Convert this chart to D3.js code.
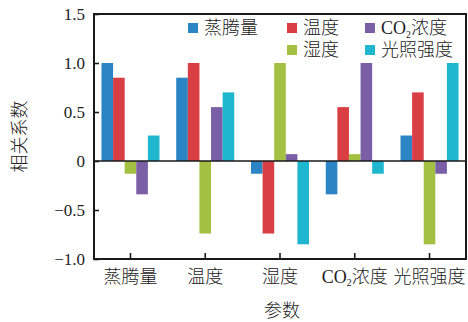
<!DOCTYPE html>
<html>
<head>
<meta charset="utf-8">
<script src="https://cdn.jsdelivr.net/npm/d3@7"></script>
<style>
  html, body { margin: 0; padding: 0; background: #fff; }
  svg { display: block; }
  .num { font-family: "Liberation Serif", "DejaVu Serif", serif; }
  .cjk { font-family: "Liberation Serif", "Noto Sans CJK SC", serif; font-weight: 300; }
</style>
</head>
<body>
<svg id="chart" width="468" height="322"></svg>
<script>
// Parameters (groups on the x axis) and series (bars within each group)
const categories = ["蒸腾量", "温度", "湿度", "CO2浓度", "光照强度"];
const seriesNames = ["蒸腾量", "温度", "湿度", "CO2浓度", "光照强度"];

// Correlation coefficients, one array per series, ordered by category
const evaporation = [1.00, 0.85, -0.13, -0.34, 0.26];
const temperature = [0.85, 1.00, -0.74, 0.55, 0.70];
const humidity    = [-0.13, -0.74, 1.00, 0.07, -0.85];
const co2         = [-0.34, 0.55, 0.07, 1.00, -0.13];
const light       = [0.26, 0.70, -0.85, -0.13, 1.00];

const yTicks = [-1.0, -0.5, 0, 0.5, 1.0, 1.5];
const yTickLabels = ["−1.0", "−0.5", "0", "0.5", "1.0", "1.5"];

const seriesValues = [evaporation, temperature, humidity, co2, light];
const colors = ["#2b84c3", "#d93e44", "#a3c043", "#7a5ea6", "#1fb7cf"];

const svg = d3.select("#chart");
const m = { left: 94, right: 466, top: 14, bottom: 259 };
const cjkSize = 18;

const x0 = d3.scaleBand().domain(categories).range([m.left, m.right])
  .paddingInner(0.224).paddingOuter(0.1);
const x1 = d3.scaleBand().domain(seriesNames).range([0, x0.bandwidth()]).padding(0);
const y = d3.scaleLinear().domain([-1, 1.5]).range([m.bottom, m.top]);

// Label helper: renders "CO2" with a subscript 2
function richText(sel, str, size) {
  sel.text(null);
  const i = str.indexOf("CO2");
  if (i < 0) { sel.text(str); return; }
  if (i > 0) sel.append("tspan").text(str.slice(0, i));
  sel.append("tspan").text("CO");
  sel.append("tspan").attr("font-size", size * 0.55).attr("dy", size * 0.18).text("2");
  sel.append("tspan").attr("dy", -size * 0.18).text(str.slice(i + 3));
}

// Bars
const groups = svg.append("g").selectAll("g")
  .data(categories)
  .join("g")
  .attr("transform", d => `translate(${x0(d)},0)`);

groups.selectAll("rect")
  .data((c, ci) => seriesNames.map((s, si) => ({ s, si, v: seriesValues[si][ci] })))
  .join("rect")
  .attr("x", d => x1(d.s))
  .attr("width", x1.bandwidth())
  .attr("y", d => y(Math.max(0, d.v)))
  .attr("height", d => Math.abs(y(d.v) - y(0)))
  .attr("fill", d => colors[d.si]);

// Zero line
svg.append("line")
  .attr("x1", m.left).attr("x2", m.right)
  .attr("y1", y(0)).attr("y2", y(0))
  .attr("stroke", "#1a1a1a").attr("stroke-width", 1.6);

// Y axis (ticks pointing inward)
const yAxis = d3.axisLeft(y).tickValues(yTicks).tickSizeInner(-5).tickSizeOuter(0)
  .tickPadding(9).tickFormat((d, i) => yTickLabels[i]);
const gy = svg.append("g").attr("transform", `translate(${m.left},0)`).call(yAxis);
gy.select(".domain").remove();
gy.selectAll(".tick line").attr("stroke", "#1a1a1a").attr("stroke-width", 1.6);
gy.selectAll(".tick text").attr("class", "num").attr("font-size", 17).attr("fill", "#222");

// X axis (ticks pointing inward)
const xAxis = d3.axisBottom(x0).tickSizeInner(-6).tickSizeOuter(0).tickPadding(11);
const gx = svg.append("g").attr("transform", `translate(0,${m.bottom})`).call(xAxis);
gx.select(".domain").remove();
gx.selectAll(".tick line").attr("stroke", "#1a1a1a").attr("stroke-width", 1.6);
gx.selectAll(".tick text").attr("class", "cjk").attr("font-size", cjkSize).attr("fill", "#222")
  .each(function (d) { richText(d3.select(this), d, cjkSize); });

// Frame
svg.append("rect")
  .attr("x", m.left).attr("y", m.top)
  .attr("width", m.right - m.left).attr("height", m.bottom - m.top)
  .attr("fill", "none").attr("stroke", "#1a1a1a").attr("stroke-width", 2);

// Legend: right-aligned columns, filled top to bottom
const legendCols = [[0], [1, 2], [3, 4]];
const colX = [188, 287, 365];
const rowY = [28, 50];
const legend = svg.append("g");
legendCols.forEach((col, ci) => {
  col.forEach((si, ri) => {
    const row = col.length === 1 ? 0 : ri;
    const g = legend.append("g").attr("transform", `translate(${colX[ci]},${rowY[row]})`);
    g.append("rect").attr("x", 0).attr("y", -5).attr("width", 10).attr("height", 10)
      .attr("fill", colors[si]);
    const t = g.append("text").attr("class", "cjk").attr("x", 16).attr("y", 0)
      .attr("dy", "0.35em").attr("font-size", cjkSize).attr("fill", "#222");
    richText(t, seriesNames[si], cjkSize);
  });
});

// Axis titles
svg.append("text").attr("class", "cjk")
  .attr("transform", `translate(20,${(m.top + m.bottom) / 2}) rotate(-90)`)
  .attr("text-anchor", "middle").attr("dy", "0.35em")
  .attr("font-size", cjkSize).attr("fill", "#222")
  .text("相关系数");

svg.append("text").attr("class", "cjk")
  .attr("x", 282).attr("y", 311).attr("text-anchor", "middle").attr("dy", "0.35em")
  .attr("font-size", cjkSize).attr("fill", "#222")
  .text("参数");
</script>
</body>
</html>
